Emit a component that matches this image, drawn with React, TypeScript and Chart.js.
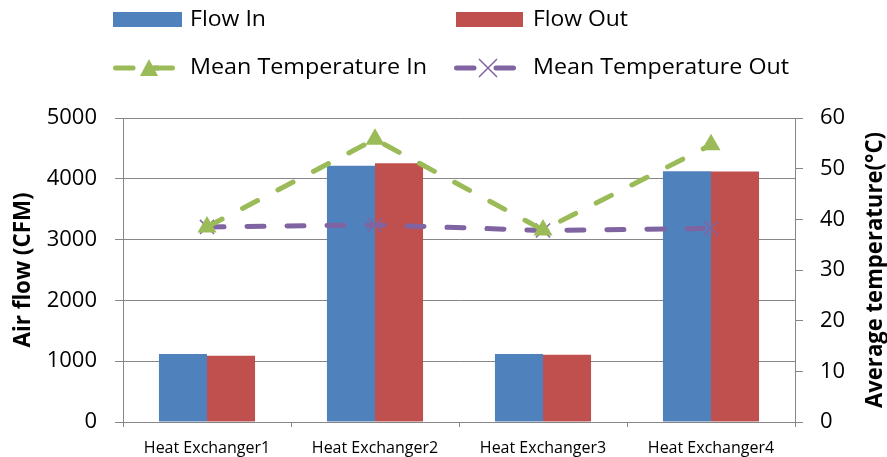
import React, { useEffect, useRef } from "react";
import { Chart, registerables } from "chart.js";

Chart.register(...registerables);

const categories = ["Heat Exchanger1", "Heat Exchanger2", "Heat Exchanger3", "Heat Exchanger4"];
const flowIn = [1120, 4215, 1120, 4125];
const flowOut = [1090, 4255, 1105, 4120];
const meanTempIn = [38.5, 55.8, 37.9, 54.7];
const meanTempOut = [38.5, 38.9, 37.8, 38.2];
const flowTitle = "Air flow (CFM)";
const tempTitle = "Average temperature(°C)";

const BLUE = "#4F81BD";
const RED = "#C0504D";
const GREEN = "#9BBB59";
const PURPLE = "#8064A2";
const GRID = "#868686";
const FONT = "'Open Sans', Lato, 'DejaVu Sans', sans-serif";

// Draws text left-aligned (or centred) and squeezed/stretched to a given run length
function fitText(
  ctx: CanvasRenderingContext2D,
  text: string,
  x: number,
  y: number,
  length: number,
  align: "left" | "center" = "left",
) {
  const w = ctx.measureText(text).width;
  const k = length / w;
  ctx.save();
  ctx.translate(x, y);
  ctx.scale(k, 1);
  ctx.textAlign = align;
  ctx.fillText(text, 0, 0);
  ctx.restore();
}

// Two-by-two legend above the plot, plus the rotated axis titles
const decorations = {
  id: "decorations",
  afterDraw(chart: any) {
    const ctx = chart.ctx as CanvasRenderingContext2D;
    const area = chart.chartArea;
    ctx.save();

    // bar swatches
    ctx.fillStyle = BLUE;
    ctx.fillRect(113, 12, 69, 15);
    ctx.fillStyle = RED;
    ctx.fillRect(456, 12, 67, 15);

    ctx.font = `21px ${FONT}`;
    ctx.fillStyle = "#000";
    ctx.textBaseline = "middle";
    fitText(ctx, "Flow In", 190, 20, 76);
    fitText(ctx, "Flow Out", 533, 20, 95);
    fitText(ctx, "Mean Temperature In", 190, 68, 237);
    fitText(ctx, "Mean Temperature Out", 533, 68, 256);

    // line swatches
    const lineSwatch = (x0: number, x1: number, color: string) => {
      ctx.strokeStyle = color;
      ctx.lineWidth = 5;
      ctx.lineCap = "round";
      ctx.beginPath();
      ctx.moveTo(x0 + 2.5, 68);
      ctx.lineTo(x0 + 20, 68);
      ctx.moveTo(x1 - 20, 68);
      ctx.lineTo(x1 - 2.5, 68);
      ctx.stroke();
    };
    lineSwatch(113, 175, GREEN);
    lineSwatch(454, 516, PURPLE);

    // triangle marker
    ctx.fillStyle = GREEN;
    ctx.beginPath();
    ctx.moveTo(149, 59);
    ctx.lineTo(158, 76);
    ctx.lineTo(140, 76);
    ctx.closePath();
    ctx.fill();
    ctx.fillRect(149, 65.5, 10, 5);

    // cross marker
    ctx.strokeStyle = PURPLE;
    ctx.lineWidth = 1.5;
    ctx.lineCap = "butt";
    ctx.beginPath();
    ctx.moveTo(479, 59);
    ctx.lineTo(497, 77);
    ctx.moveTo(497, 59);
    ctx.lineTo(479, 77);
    ctx.stroke();

    // axis titles, both reading bottom to top
    const midY = (area.top + area.bottom) / 2;
    ctx.font = `bold 23px ${FONT}`;
    ctx.fillStyle = "#000";
    ctx.textBaseline = "middle";
    ctx.save();
    ctx.translate(23, midY);
    ctx.rotate(-Math.PI / 2);
    fitText(ctx, flowTitle, 0, 0, 155, "center");
    ctx.restore();
    ctx.save();
    ctx.translate(875, midY);
    ctx.rotate(-Math.PI / 2);
    fitText(ctx, tempTitle, 0, 0, 276, "center");
    ctx.restore();
    ctx.restore();
  },
};

export default function App() {
  const ref = useRef<HTMLCanvasElement | null>(null);

  useEffect(() => {
    if (!ref.current) return;
    const lineCommon = {
      type: "line" as const,
      yAxisID: "yTemp",
      borderWidth: 5,
      borderDash: [17, 23],
      borderCapStyle: "round" as const,
      fill: false,
      tension: 0,
      order: 1,
    };
    const barCommon = {
      type: "bar" as const,
      yAxisID: "yFlow",
      order: 2,
      categoryPercentage: 0.572,
      barPercentage: 1,
    };
    const chart = new Chart(ref.current, {
      type: "bar",
      data: {
        labels: categories,
        datasets: [
          {
            ...lineCommon,
            label: "Mean Temperature In",
            data: meanTempIn,
            borderColor: GREEN,
            backgroundColor: GREEN,
            pointStyle: "triangle",
            pointRadius: 11,
            pointBorderWidth: 0,
            pointBackgroundColor: GREEN,
          },
          {
            ...lineCommon,
            label: "Mean Temperature Out",
            data: meanTempOut,
            borderColor: PURPLE,
            backgroundColor: PURPLE,
            pointStyle: "crossRot",
            pointRadius: 10,
            pointBorderWidth: 1.5,
            pointBorderColor: PURPLE,
          },
          { ...barCommon, label: "Flow In", data: flowIn, backgroundColor: BLUE },
          { ...barCommon, label: "Flow Out", data: flowOut, backgroundColor: RED },
        ],
      } as any,
      options: {
        animation: false,
        responsive: false,
        maintainAspectRatio: false,
        layout: { padding: { top: 118, left: 0, right: 0, bottom: 0 } },
        plugins: {
          legend: { display: false },
          tooltip: { enabled: false },
        },
        scales: {
          x: {
            offset: true,
            grid: {
              offset: true,
              drawOnChartArea: false,
              drawTicks: true,
              tickLength: 5,
              color: GRID,
            },
            border: { color: GRID, width: 1 },
            ticks: {
              color: "#000",
              font: { family: FONT, size: 16 },
              padding: 12,
              maxRotation: 0,
              autoSkip: false,
            },
            afterFit: (s: any) => {
              s.height = 35;
            },
          },
          yFlow: {
            type: "linear",
            position: "left",
            min: 0,
            max: 5000,
            ticks: {
              stepSize: 1000,
              color: "#000",
              font: { family: FONT, size: 22 },
              padding: 18,
              callback: (v: any) => String(v),
            },
            grid: { color: GRID, tickLength: 8, drawTicks: true },
            border: { color: GRID, width: 1 },
            afterFit: (s: any) => {
              s.width = 123;
            },
          },
          yTemp: {
            type: "linear",
            position: "right",
            min: 0,
            max: 60,
            ticks: {
              stepSize: 10,
              color: "#000",
              font: { family: FONT, size: 22 },
              padding: 17,
              callback: (v: any) => String(v),
            },
            grid: { drawOnChartArea: false, color: GRID, tickLength: 8 },
            border: { color: GRID, width: 1 },
            afterFit: (s: any) => {
              s.width = 92;
            },
          },
        },
      } as any,
      plugins: [decorations],
    });
    return () => chart.destroy();
  }, []);

  return (
    <div style={{ position: "fixed", left: 0, top: 0, width: 887, height: 457, background: "#fff" }}>
      <canvas ref={ref} width={887} height={457} style={{ display: "block" }} />
    </div>
  );
}
